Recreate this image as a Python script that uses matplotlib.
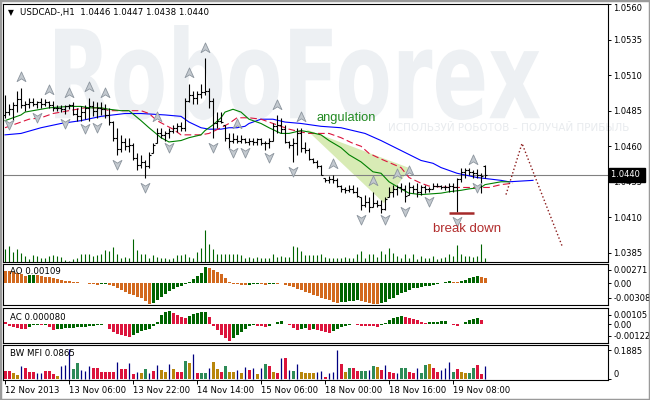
import numpy as np
import matplotlib
matplotlib.use("Agg")
import matplotlib.pyplot as plt
import matplotlib.transforms as mtransforms
from matplotlib.path import Path
from matplotlib.patches import PathPatch, Polygon, Rectangle
from matplotlib.textpath import TextPath
from matplotlib.font_manager import FontProperties

plt.rcParams['font.family'] = ['DejaVu Sans']

# ---- USDCAD H1 bars ----
opens = [1.0482, 1.0484, 1.0486, 1.0489, 1.0493, 1.0489, 1.0490, 1.0491, 1.0490, 1.0491,
         1.0490, 1.0491, 1.0489, 1.0487, 1.0487, 1.0486, 1.0488, 1.0489, 1.0483, 1.0481,
         1.0484, 1.0487, 1.0488, 1.0485, 1.0487, 1.0486, 1.0482, 1.0477, 1.0466, 1.0458,
         1.0463, 1.0460, 1.0461, 1.0452, 1.0447, 1.0449, 1.0446, 1.0455, 1.0462, 1.0469,
         1.0468, 1.0469, 1.0471, 1.0473, 1.0474, 1.0473, 1.0492, 1.0496, 1.0494, 1.0497,
         1.0498, 1.0499, 1.0492, 1.0476, 1.0478, 1.0475, 1.0466, 1.0464, 1.0465, 1.0464,
         1.0465, 1.0463, 1.0464, 1.0463, 1.0465, 1.0462, 1.0462, 1.0464, 1.0474, 1.0475,
         1.0472, 1.0463, 1.0461, 1.0462, 1.0469, 1.0459, 1.0457, 1.0451, 1.0449, 1.0446,
         1.0438, 1.0436, 1.0437, 1.0436, 1.0432, 1.0430, 1.0429, 1.0430, 1.0428, 1.0424,
         1.0419, 1.0421, 1.0417, 1.0420, 1.0419, 1.0416, 1.0424, 1.0428, 1.0430, 1.0431,
         1.0430, 1.0426, 1.0431, 1.0430, 1.0428, 1.0431, 1.0430, 1.0430, 1.0432, 1.0432,
         1.0431, 1.0431, 1.0432, 1.0431, 1.0437, 1.0442, 1.0443, 1.0442, 1.0441, 1.0440,
         1.0446]
highs = [1.0496, 1.0490, 1.0491, 1.0499, 1.0501, 1.0492, 1.0494, 1.0494, 1.0492, 1.0494,
         1.0493, 1.0492, 1.0492, 1.0489, 1.0489, 1.0489, 1.0490, 1.0491, 1.0487, 1.0488,
         1.0489, 1.0494, 1.0492, 1.0491, 1.0491, 1.0490, 1.0487, 1.0478, 1.0473, 1.0468,
         1.0466, 1.0466, 1.0462, 1.0455, 1.0454, 1.0450, 1.0456, 1.0462, 1.0473, 1.0473,
         1.0471, 1.0473, 1.0475, 1.0476, 1.0477, 1.0494, 1.0504, 1.0499, 1.0499, 1.0504,
         1.0522, 1.0501, 1.0494, 1.0484, 1.0484, 1.0475, 1.0469, 1.0469, 1.0468, 1.0468,
         1.0466, 1.0466, 1.0466, 1.0466, 1.0466, 1.0464, 1.0466, 1.0476, 1.0482, 1.0480,
         1.0475, 1.0464, 1.0466, 1.0473, 1.0473, 1.0463, 1.0459, 1.0452, 1.0450, 1.0447,
         1.0438, 1.0439, 1.0440, 1.0438, 1.0433, 1.0431, 1.0433, 1.0433, 1.0431, 1.0424,
         1.0426, 1.0424, 1.0428, 1.0422, 1.0422, 1.0424, 1.0431, 1.0433, 1.0433, 1.0434,
         1.0433, 1.0435, 1.0433, 1.0434, 1.0433, 1.0433, 1.0431, 1.0434, 1.0434, 1.0433,
         1.0433, 1.0434, 1.0434, 1.0438, 1.0445, 1.0445, 1.0445, 1.0443, 1.0444, 1.0441,
         1.0447]
lows = [1.0480, 1.0482, 1.0478, 1.0484, 1.0487, 1.0485, 1.0487, 1.0488, 1.0487, 1.0487,
        1.0488, 1.0487, 1.0485, 1.0485, 1.0484, 1.0483, 1.0486, 1.0482, 1.0478, 1.0478,
        1.0479, 1.0478, 1.0481, 1.0480, 1.0482, 1.0480, 1.0475, 1.0464, 1.0454, 1.0456,
        1.0457, 1.0456, 1.0450, 1.0443, 1.0445, 1.0438, 1.0445, 1.0455, 1.0462, 1.0466,
        1.0464, 1.0466, 1.0469, 1.0470, 1.0471, 1.0471, 1.0491, 1.0490, 1.0490, 1.0494,
        1.0496, 1.0487, 1.0466, 1.0473, 1.0476, 1.0464, 1.0459, 1.0462, 1.0462, 1.0462,
        1.0462, 1.0461, 1.0461, 1.0461, 1.0461, 1.0457, 1.0459, 1.0464, 1.0469, 1.0469,
        1.0462, 1.0459, 1.0449, 1.0454, 1.0456, 1.0455, 1.0450, 1.0448, 1.0445, 1.0440,
        1.0435, 1.0434, 1.0434, 1.0431, 1.0428, 1.0427, 1.0428, 1.0427, 1.0424, 1.0415,
        1.0417, 1.0414, 1.0417, 1.0417, 1.0413, 1.0415, 1.0424, 1.0424, 1.0426, 1.0428,
        1.0421, 1.0426, 1.0427, 1.0424, 1.0426, 1.0427, 1.0428, 1.0430, 1.0431, 1.0430,
        1.0429, 1.0428, 1.0428, 1.0414, 1.0435, 1.0438, 1.0440, 1.0438, 1.0438, 1.0427,
        1.0438]
closes = [1.0484, 1.0486, 1.0489, 1.0493, 1.0489, 1.0490, 1.0491, 1.0490, 1.0491, 1.0490,
          1.0491, 1.0489, 1.0487, 1.0487, 1.0486, 1.0488, 1.0489, 1.0483, 1.0481, 1.0484,
          1.0487, 1.0488, 1.0485, 1.0487, 1.0486, 1.0482, 1.0477, 1.0466, 1.0458, 1.0463,
          1.0460, 1.0461, 1.0452, 1.0447, 1.0449, 1.0446, 1.0454, 1.0461, 1.0469, 1.0468,
          1.0469, 1.0471, 1.0473, 1.0474, 1.0473, 1.0492, 1.0496, 1.0494, 1.0497, 1.0498,
          1.0499, 1.0492, 1.0476, 1.0478, 1.0477, 1.0466, 1.0464, 1.0465, 1.0464, 1.0465,
          1.0463, 1.0464, 1.0463, 1.0465, 1.0462, 1.0462, 1.0464, 1.0474, 1.0475, 1.0472,
          1.0463, 1.0461, 1.0462, 1.0469, 1.0459, 1.0457, 1.0451, 1.0449, 1.0446, 1.0440,
          1.0436, 1.0437, 1.0436, 1.0432, 1.0430, 1.0429, 1.0430, 1.0428, 1.0425, 1.0419,
          1.0421, 1.0417, 1.0420, 1.0419, 1.0416, 1.0423, 1.0428, 1.0430, 1.0431, 1.0430,
          1.0425, 1.0431, 1.0430, 1.0428, 1.0431, 1.0430, 1.0430, 1.0432, 1.0432, 1.0431,
          1.0431, 1.0432, 1.0431, 1.0437, 1.0442, 1.0443, 1.0442, 1.0441, 1.0440, 1.0439,
          1.0440]
volumes = [13, 16, 10, 13, 9, 6, 3, 7, 6, 4, 4, 6, 7, 6, 5, 2, 1, 3, 4, 8,
           8, 8, 6, 7, 8, 12, 11, 15, 8, 4, 5, 4, 23, 12, 8, 8, 4, 7, 5, 4,
           4, 3, 4, 7, 7, 8, 5, 4, 10, 14, 32, 18, 13, 8, 8, 8, 8, 8, 8, 7,
           4, 5, 4, 5, 4, 4, 4, 8, 5, 6, 5, 5, 16, 15, 11, 7, 7, 7, 7, 8,
           5, 4, 4, 4, 4, 5, 4, 4, 8, 11, 4, 8, 8, 5, 11, 8, 14, 9, 6, 4,
           8, 4, 8, 3, 6, 4, 4, 6, 3, 4, 5, 8, 6, 17, 8, 6, 6, 5, 6, 18,
           4]

# Alligator lines (bar index, price)
jaw_x = [0, 4, 9, 14, 19, 24, 27, 30, 34, 40, 44, 46, 49, 51, 54, 56, 58, 60, 61, 64, 67, 70,
         74, 79, 84, 90, 94, 99, 104, 107, 109, 113, 118, 124, 126, 132]
jaw_y = [1.0468, 1.0469, 1.0473, 1.0476, 1.0478, 1.0481, 1.0482, 1.0483, 1.0483, 1.0482, 1.0481,
         1.0477, 1.0473, 1.0472, 1.0472, 1.0473, 1.0473, 1.0474, 1.0476, 1.0479, 1.0479, 1.0477,
         1.0476, 1.0474, 1.0473, 1.0469, 1.0464, 1.0457, 1.0450, 1.0448, 1.0445, 1.0441, 1.0438,
         1.0436, 1.0435, 1.0436]
teeth_x = [0, 4, 6, 9, 12, 16, 20, 24, 26, 29, 34, 36, 38, 42, 44, 47, 49, 51, 54, 56, 58, 61,
           64, 66, 69, 71, 74, 76, 81, 84, 87, 89, 91, 94, 99, 101, 104, 106, 111, 114, 116, 119,
           121, 124, 127]
teeth_y = [1.0473, 1.0477, 1.0479, 1.0480, 1.0483, 1.0485, 1.0487, 1.0487, 1.0485, 1.0485, 1.0485,
           1.0483, 1.0478, 1.0472, 1.0468, 1.0468, 1.0468, 1.0469, 1.0473, 1.0476, 1.0480, 1.0480,
           1.0479, 1.0477, 1.0474, 1.0472, 1.0470, 1.0469, 1.0469, 1.0466, 1.0462, 1.0460, 1.0455,
           1.0451, 1.0445, 1.0438, 1.0434, 1.0432, 1.0431, 1.0431, 1.0431, 1.0431, 1.0431, 1.0433,
           1.0434]
lips_x = [0, 4, 5, 9, 11, 16, 19, 21, 24, 26, 29, 31, 34, 36, 39, 41, 44, 46, 49, 50, 52, 54, 55,
          57, 59, 61, 64, 66, 69, 71, 74, 76, 79, 81, 84, 86, 89, 92, 94, 96, 99, 101, 104, 109,
          111, 114, 116, 119, 120, 124, 126]
lips_y = [1.0478, 1.0482, 1.0484, 1.0486, 1.0487, 1.0488, 1.0488, 1.0487, 1.0487, 1.0486, 1.0485,
          1.0485, 1.0478, 1.0473, 1.0466, 1.0463, 1.0464, 1.0466, 1.0468, 1.0471, 1.0475, 1.0480,
          1.0484, 1.0486, 1.0484, 1.0479, 1.0476, 1.0473, 1.0469, 1.0469, 1.0471, 1.0470, 1.0468,
          1.0464, 1.0459, 1.0454, 1.0449, 1.0442, 1.0441, 1.0435, 1.0430, 1.0427, 1.0426, 1.0427,
          1.0428, 1.0429, 1.0430, 1.0431, 1.0433, 1.0435, 1.0435]

# Fractals (bar indices)
up_fractals = [4, 11, 16, 21, 25, 38, 46, 50, 58, 68, 74, 82, 92, 98, 101, 117]
down_fractals = [1, 8, 15, 20, 23, 28, 35, 41, 52, 57, 60, 66, 72, 89, 95, 100, 106, 113, 118]

# Awesome Oscillator
ao = [0.0025, 0.0024, 0.0023, 0.0021, 0.0019, 0.0015, 0.0016, 0.0017, 0.0016, 0.0015,
      0.0013, 0.0012, 0.0010, 0.0008, 0.0007, 0.0005, 0.0004, 0.0003, 0.0002, 0.0001,
      -0.0001, -0.0002, -0.0003, -0.0004, -0.0003, -0.0002, -0.0004, -0.0007, -0.0011, -0.0015,
      -0.0018, -0.0022, -0.0025, -0.0028, -0.0032, -0.0038, -0.0044, -0.0042, -0.0035, -0.0028,
      -0.0023, -0.0017, -0.0012, -0.0009, -0.0006, -0.0002, 0.0003, 0.0008, 0.0014, 0.0020,
      0.0033, 0.0030, 0.0027, 0.0023, 0.0018, 0.0010, 0.0003, -0.0002, -0.0003, -0.0004,
      -0.0005, -0.0004, -0.0003, -0.0002, -0.0003, -0.0004, -0.0003, -0.0002, -0.0002, -0.0001,
      -0.0004, -0.0007, -0.0009, -0.0012, -0.0015, -0.0018, -0.0021, -0.0024, -0.0027, -0.0030,
      -0.0033, -0.0036, -0.0039, -0.0041, -0.0040, -0.0039, -0.0038, -0.0037, -0.0036, -0.0038,
      -0.0040, -0.0042, -0.0043, -0.0044, -0.0042, -0.0039, -0.0034, -0.0030, -0.0025, -0.0021,
      -0.0018, -0.0014, -0.0011, -0.0010, -0.0008, -0.0007, -0.0006, -0.0004, -0.0002, -0.0001,
      0.0002, 0.0004, 0.0003, 0.00025, 0.0005, 0.0007, 0.0010, 0.0012, 0.0014, 0.0013,
      0.00109]

# Accelerator Oscillator
ac = [0.0003, -0.0002, -0.0003, -0.0004, -0.00045, -0.0005, -0.0003, -0.0001, -0.00005, -0.0001,
      -0.00005, -0.0003, -0.0006, -0.0005, -0.00045, -0.0004, -0.00038, -0.00035, -0.0003, -0.00028,
      -0.00025, -0.0002, -0.00015, -0.0001, -0.00005, 0.0, -0.0005, -0.0008, -0.0010, -0.0011,
      -0.0012, -0.0013, -0.0011, -0.0009, -0.0007, -0.0006, -0.0005, -0.0002, 0.0003, 0.0010,
      0.0014, 0.0015, 0.0012, 0.0010, 0.0008, 0.0007, 0.0009, 0.0011, 0.0012, 0.0013,
      0.00135, 0.0008, -0.0002, -0.0006, -0.0011, -0.0015, -0.0018, -0.0015, -0.0011, -0.0008,
      -0.0005, -0.0002, -0.0001, -0.00015, -0.0002, -0.00025, -0.0002, 0.0, 0.0003, 0.0004,
      0.0001, -0.0001, -0.0004, -0.0006, -0.0005, -0.0004, -0.0006, -0.0005, -0.0006, -0.0007,
      -0.0008, -0.0009, -0.0007, -0.0005, -0.0003, -0.0002, -0.00005, 0.00003, -0.0001, -0.00012,
      -0.00015, -0.00018, -0.0002, -0.00022, -0.0001, 0.0002, 0.0005, 0.0007, 0.0008, 0.0009,
      0.0008, 0.0007, 0.0006, 0.0005, 0.0003, 0.0002, 0.00025, 0.0003, 0.00032, 0.00035,
      0.0004, 0.0001, -0.0001, -0.00015, 0.0001, 0.0003, 0.0005, 0.0006, 0.0007, 0.0005,
      0.00008]

# BW Market Facilitation Index: value and colour code
# g = green (mfi up, vol up), f = fade (down, down), b = fake (up, down), s = squat (down, up)
mfi = [0.054, 0.054, 0.037, 0.028, 0.085, 0.069, 0.043, 0.043, 0.037, 0.037,
       0.052, 0.052, 0.033, 0.020, 0.085, 0.091, 0.195, 0.065, 0.102, 0.059,
       0.052, 0.085, 0.069, 0.069, 0.048, 0.048, 0.048, 0.048, 0.109, 0.065,
       0.065, 0.102, 0.033, 0.048, 0.037, 0.065, 0.037, 0.052, 0.091, 0.059,
       0.048, 0.095, 0.065, 0.043, 0.043, 0.117, 0.102, 0.161, 0.041, 0.041,
       0.041, 0.069, 0.109, 0.063, 0.048, 0.085, 0.048, 0.048, 0.059, 0.037,
       0.080, 0.059, 0.069, 0.033, 0.069, 0.095, 0.085, 0.048, 0.037, 0.135,
       0.135, 0.059, 0.052, 0.095, 0.043, 0.037, 0.037, 0.037, 0.048, 0.052,
       0.015, 0.037, 0.043, 0.189, 0.098, 0.043, 0.069, 0.069, 0.052, 0.052,
       0.052, 0.059, 0.085, 0.080, 0.059, 0.091, 0.043, 0.041, 0.041, 0.069,
       0.074, 0.043, 0.037, 0.074, 0.037, 0.091, 0.095, 0.069, 0.043, 0.059,
       0.069, 0.113, 0.048, 0.065, 0.048, 0.037, 0.041, 0.069, 0.091, 0.030,
       0.0865]
mfi_kind = ("ssffbsssbb" "sssfbbbggb" "bbssssssbs" "sbsbfgbsbf" "fbfssgfbsg"
            "gbffsgffbf" "bsbfbgsfsb" "sbgbffffbb" "sbbbsfgssg" "gbgfsbssbg"
            "gssbggfssb" "bbgsffggss" "b")

time_labels = ["12 Nov 2013", "13 Nov 06:00", "13 Nov 22:00", "14 Nov 14:00",
               "15 Nov 06:00", "18 Nov 00:00", "18 Nov 16:00", "19 Nov 08:00"]
price_ticks = [1.0385, 1.0410, 1.0435, 1.0460, 1.0485, 1.0510, 1.0535, 1.0560]
last_price = 1.0440

opens, highs, lows, closes = map(np.array, (opens, highs, lows, closes))
volumes, ao, ac, mfi = map(np.array, (volumes, ao, ac, mfi))
x = np.arange(len(closes))

W, H = 650, 400
fig = plt.figure(figsize=(W / 100, H / 100), dpi=100)


def box(x0, y0, x1, y1):
    # pixel box measured from the top-left corner -> figure fraction
    return [x0 / W, 1 - y1 / H, (x1 - x0) / W, (y1 - y0) / H]


def px(xp, yp):
    return xp / W, 1 - yp / H


vax = fig.add_axes(box(3, 4, 608, 262))
ax = fig.add_axes(box(3, 4, 608, 262), sharex=vax)
ao_ax = fig.add_axes(box(3, 264, 608, 305), sharex=vax)
ac_ax = fig.add_axes(box(3, 308, 608, 343), sharex=vax)
mfi_ax = fig.add_axes(box(3, 345, 608, 380), sharex=vax)

for a in (ax, ao_ax, ac_ax, mfi_ax):
    a.set_facecolor('none')
    for s in a.spines.values():
        s.set_color('black')
        s.set_linewidth(0.8)
    a.yaxis.tick_right()
    a.tick_params(axis='y', direction='out', length=2.5, width=0.7, pad=1.5,
                  labelsize=6, colors='black')
    a.tick_params(axis='x', length=0, labelbottom=False)

# watermark
fp = FontProperties(family='DejaVu Sans', weight='bold')
tp = TextPath((0, 0), 'RoboForex', size=100, prop=fp)
bb = tp.get_extents()
tr = (mtransforms.Affine2D().translate(-bb.x0, -bb.y0)
      .scale(485 / bb.width, 95 / bb.height).translate(55, H - 120))
fig.add_artist(PathPatch(tp, transform=tr, facecolor='#edf0f3', edgecolor='none', zorder=-5))
fig.text(*px(388, 128), 'ИСПОЛЬЗУЙ РОБОТОВ – ПОЛУЧАЙ ПРИБЫЛЬ', fontsize=7.5,
         color='#e8ebee', va='center', zorder=-4)

# volumes
vax.vlines(x, 0, volumes, color='#006400', lw=0.8)
vax.set_ylim(0, volumes.max() * 8.1)
vax.set_axis_off()

# angulation area
ax.add_patch(Polygon([(75.25, 1.04719), (101.25, 1.04445), (94.75, 1.04200)],
                     closed=True, facecolor='#d4e9ad', edgecolor='none', alpha=0.9, zorder=1))

ax.axhline(last_price, color='#808080', lw=0.8, zorder=1.5)

# alligator
ax.plot(jaw_x, jaw_y, color='#0000ff', lw=0.8, zorder=2)
ax.plot(teeth_x, teeth_y, color='#dc143c', lw=0.8, dashes=(6, 3), zorder=2)
ax.plot(lips_x, lips_y, color='#008000', lw=0.8, zorder=2)

# OHLC bars
ax.vlines(x, lows, highs, color='black', lw=0.8, zorder=3)
ax.hlines(opens, x - 0.4, x, color='black', lw=0.8, zorder=3)
ax.hlines(closes, x, x + 0.4, color='black', lw=0.8, zorder=3)

# fractals
UP = Path([(0, 1), (0.8, -0.75), (0, -0.25), (-0.8, -0.75), (0, 1)],
          [Path.MOVETO, Path.LINETO, Path.LINETO, Path.LINETO, Path.CLOSEPOLY])
DOWN = Path([(0, -1), (0.8, 0.75), (0, 0.25), (-0.8, 0.75), (0, -1)],
            [Path.MOVETO, Path.LINETO, Path.LINETO, Path.LINETO, Path.CLOSEPOLY])
up_tr = mtransforms.offset_copy(ax.transData, fig=fig, x=0, y=7.5, units='points')
dn_tr = mtransforms.offset_copy(ax.transData, fig=fig, x=0, y=-6.5, units='points')
ax.plot(x[up_fractals], highs[up_fractals], ls='none', marker=UP, ms=8,
        mfc='#c3c9cf', mec='#8c959e', mew=0.6, transform=up_tr, zorder=4)
ax.plot(x[down_fractals], lows[down_fractals], ls='none', marker=DOWN, ms=8,
        mfc='#c3c9cf', mec='#8c959e', mew=0.6, transform=dn_tr, zorder=4)

# annotations
ax.text(77.8, 1.0480, 'angulation', color='#228b22', fontsize=9.3,
        family='Liberation Sans', va='center', zorder=5)
ax.text(107, 1.0402, 'break down', color='#b22d2d', fontsize=9.5,
        family='Liberation Sans', va='center', zorder=5)
ax.hlines(1.0413, 111, 117.25, color='#a52a2a', lw=1.8, zorder=5)
ax.plot([125.25, 129.25, 139.25], [1.0426, 1.0462, 1.0390], ls=':', color='#8b1c1c',
        lw=1.0, zorder=5)

ax.set_ylim(1.03786, 1.0560)
ax.set_yticks(price_ticks)
ax.set_yticklabels(['%.4f' % p for p in price_ticks])
ax.yaxis.get_major_ticks()[-1].label2.set_verticalalignment('top')
ax.annotate('1.0440 ', xy=(1.0, last_price), xycoords=mtransforms.blended_transform_factory(
    ax.transAxes, ax.transData), xytext=(2.5, 0), textcoords='offset points',
    ha='left', va='center', fontsize=6, color='white', annotation_clip=False,
    bbox=dict(boxstyle='square,pad=0.3', facecolor='black', edgecolor='black'), zorder=6)

# AO
green, orange, red = '#006400', '#d2691e', '#dc143c'
ao_col = np.where(np.diff(ao, prepend=ao[0]) > 0, green, orange)
ao_ax.bar(x, ao, width=0.75, color=ao_col, linewidth=0, antialiased=False)
ao_ax.set_ylim(-0.00455, 0.00393)
ao_ax.set_yticks([-0.00308, 0.0, 0.00271])
ao_ax.set_yticklabels(['-0.00308', '0.00', '0.00271'])

# AC
ac_col = np.where(np.diff(ac, prepend=ac[0]) > 0, green, red)
ac_ax.bar(x, ac, width=0.75, color=ac_col, linewidth=0, antialiased=False)
ac_ax.set_ylim(-0.0020, 0.00178)
ac_ax.set_yticks([-0.00122, 0.0, 0.00105])
ac_ax.set_yticklabels(['-0.00122', '0.00', '0.00105'])

# BW MFI
kind = np.array(list(mfi_kind))
mfi_colors = {'g': '#2e8b57', 'f': '#b8860b', 's': '#dc143c'}
for k, c in mfi_colors.items():
    m = kind == k
    mfi_ax.bar(x[m], mfi[m], width=0.75, color=c, linewidth=0, antialiased=False)
m = kind == 'b'
mfi_ax.vlines(x[m], 0, mfi[m], color='#000080', lw=0.9)
mfi_ax.set_ylim(-0.0065, 0.221)
mfi_ax.set_yticks([0.0, 0.1885])
mfi_ax.set_yticklabels(['0', '0.1885'])
mfi_ax.yaxis.get_major_ticks()[0].label2.set_verticalalignment('bottom')

mfi_ax.set_xticks(x[::16][:len(time_labels)])
mfi_ax.set_xticklabels(time_labels)
mfi_ax.tick_params(axis='x', length=3, width=0.7, direction='out', pad=1.5,
                   labelbottom=True, labelsize=6.1)
for lbl in mfi_ax.get_xticklabels():
    lbl.set_horizontalalignment('left')

vax.set_xlim(-0.5, 150.75)

# panel captions
fig.text(*px(8, 13), '▼', fontsize=5.5, va='center')
fig.text(*px(20, 13), 'USDCAD-,H1  1.0446 1.0447 1.0438 1.0440', fontsize=6.2, va='center')
fig.text(*px(10, 272), 'AO 0.00109', fontsize=6.2, va='center')
fig.text(*px(10, 317), 'AC 0.000080', fontsize=6.2, va='center')
fig.text(*px(10, 354), 'BW MFI 0.0865', fontsize=6.2, va='center')

# window frame
fig.add_artist(Rectangle((0, 0), 1, 1, transform=fig.transFigure, fill=False,
                         edgecolor='#9a9a9a', lw=2.5, zorder=10))

fig.savefig('out.png', dpi=100)
